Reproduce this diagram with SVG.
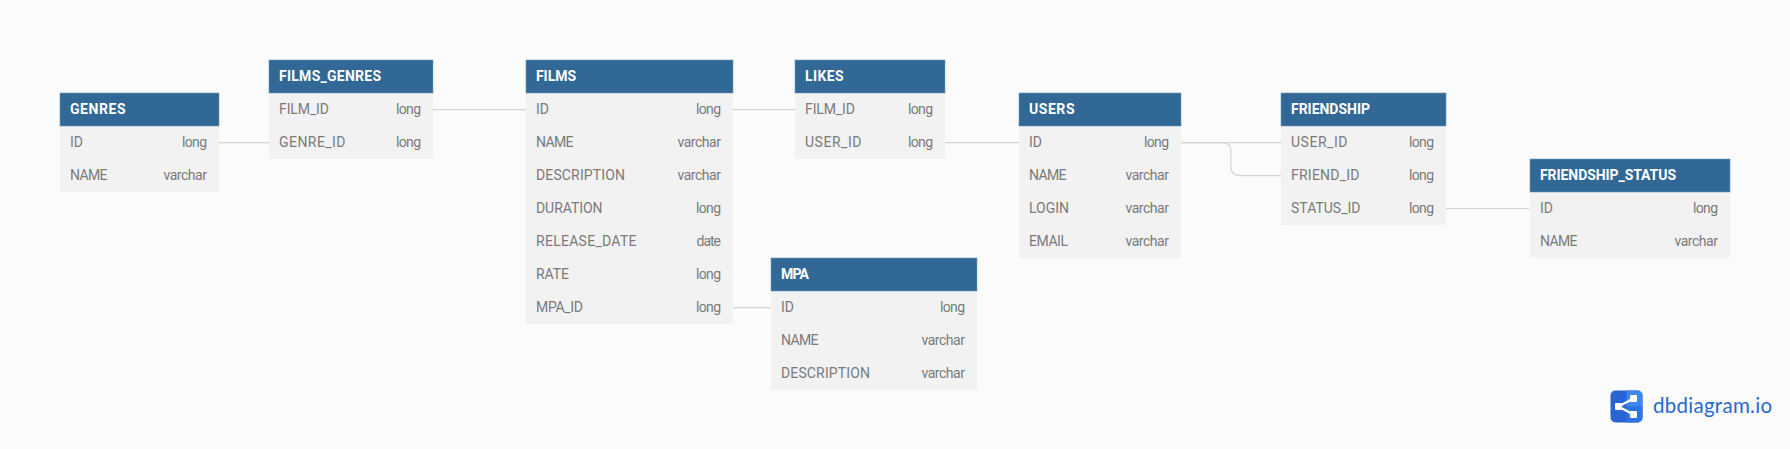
<svg xmlns="http://www.w3.org/2000/svg" width="1790" height="449" viewBox="0 0 1790 449">
<style>
.bg{fill:#fbfbfb}
.body{fill:#f2f2f2}
.head{fill:#316896;stroke:#6f9cc0;stroke-width:.6}
.title{font:700 14px Roboto,"Liberation Sans",sans-serif;fill:#fff}
.f{font:400 14px Roboto,"Liberation Sans",sans-serif;fill:#7a7a7a}
.t{font:400 14px Roboto,"Liberation Sans",sans-serif;fill:#7a7a7a;text-anchor:end}
.c{fill:none;stroke:#d4d4d4;stroke-width:1.25}
.logo{font:400 20.5px Lato,"Open Sans",sans-serif;fill:#2a68cf}
</style>
<rect class="bg" width="1790" height="449"/>
<g id="connectors">
<path class="c" d="M219 142.5H269"/>
<path class="c" d="M433 109.5H526"/>
<path class="c" d="M733 109.5H795"/>
<path class="c" d="M945 142.5H1019"/>
<path class="c" d="M1181 142.5H1281"/>
<path class="c" d="M1181 142.5H1222Q1231 142.5 1231 151.5V166.5Q1231 175.5 1240 175.5H1281"/>
<path class="c" d="M1446 208.5H1529"/>
<path class="c" d="M733 307.5H771"/>
</g>
<g id="GENRES">
<rect class="body" x="60" y="126" width="159" height="66"/><rect class="head" x="60" y="93" width="159" height="33"/>
<text class="title" x="70" y="113.5" textLength="55.5">GENRES</text>
<text class="f" x="70" y="146.5" textLength="13">ID</text><text class="t" x="207" y="146.5" textLength="25">long</text>
<text class="f" x="70" y="179.5" textLength="37.5">NAME</text><text class="t" x="207" y="179.5" textLength="43.5">varchar</text>
</g>
<g id="FILMS_GENRES">
<rect class="body" x="269" y="93" width="164" height="66"/><rect class="head" x="269" y="60" width="164" height="33"/>
<text class="title" x="279" y="80.5" textLength="102">FILMS_GENRES</text>
<text class="f" x="279" y="113.5" textLength="50">FILM_ID</text><text class="t" x="421" y="113.5" textLength="25">long</text>
<text class="f" x="279" y="146.5" textLength="66.5">GENRE_ID</text><text class="t" x="421" y="146.5" textLength="25">long</text>
</g>
<g id="FILMS">
<rect class="body" x="526" y="93" width="207" height="231"/><rect class="head" x="526" y="60" width="207" height="33"/>
<text class="title" x="536" y="80.5" textLength="40">FILMS</text>
<text class="f" x="536" y="113.5" textLength="13">ID</text><text class="t" x="721" y="113.5" textLength="25">long</text>
<text class="f" x="536" y="146.5" textLength="37.5">NAME</text><text class="t" x="721" y="146.5" textLength="43.5">varchar</text>
<text class="f" x="536" y="179.5" textLength="89">DESCRIPTION</text><text class="t" x="721" y="179.5" textLength="43.5">varchar</text>
<text class="f" x="536" y="212.5" textLength="66.5">DURATION</text><text class="t" x="721" y="212.5" textLength="25">long</text>
<text class="f" x="536" y="245.5" textLength="100.5">RELEASE_DATE</text><text class="t" x="721" y="245.5" textLength="24.5">date</text>
<text class="f" x="536" y="278.5" textLength="33">RATE</text><text class="t" x="721" y="278.5" textLength="25">long</text>
<text class="f" x="536" y="311.5" textLength="47">MPA_ID</text><text class="t" x="721" y="311.5" textLength="25">long</text>
</g>
<g id="LIKES">
<rect class="body" x="795" y="93" width="150" height="66"/><rect class="head" x="795" y="60" width="150" height="33"/>
<text class="title" x="805" y="80.5" textLength="38.5">LIKES</text>
<text class="f" x="805" y="113.5" textLength="50">FILM_ID</text><text class="t" x="933" y="113.5" textLength="25">long</text>
<text class="f" x="805" y="146.5" textLength="56.5">USER_ID</text><text class="t" x="933" y="146.5" textLength="25">long</text>
</g>
<g id="USERS">
<rect class="body" x="1019" y="126" width="162" height="132"/><rect class="head" x="1019" y="93" width="162" height="33"/>
<text class="title" x="1029" y="113.5" textLength="45.5">USERS</text>
<text class="f" x="1029" y="146.5" textLength="13">ID</text><text class="t" x="1169" y="146.5" textLength="25">long</text>
<text class="f" x="1029" y="179.5" textLength="37.5">NAME</text><text class="t" x="1169" y="179.5" textLength="43.5">varchar</text>
<text class="f" x="1029" y="212.5" textLength="40">LOGIN</text><text class="t" x="1169" y="212.5" textLength="43.5">varchar</text>
<text class="f" x="1029" y="245.5" textLength="39">EMAIL</text><text class="t" x="1169" y="245.5" textLength="43.5">varchar</text>
</g>
<g id="FRIENDSHIP">
<rect class="body" x="1281" y="126" width="165" height="99"/><rect class="head" x="1281" y="93" width="165" height="33"/>
<text class="title" x="1291" y="113.5" textLength="79">FRIENDSHIP</text>
<text class="f" x="1291" y="146.5" textLength="56.5">USER_ID</text><text class="t" x="1434" y="146.5" textLength="25">long</text>
<text class="f" x="1291" y="179.5" textLength="68.5">FRIEND_ID</text><text class="t" x="1434" y="179.5" textLength="25">long</text>
<text class="f" x="1291" y="212.5" textLength="69.5">STATUS_ID</text><text class="t" x="1434" y="212.5" textLength="25">long</text>
</g>
<g id="FRIENDSHIP_STATUS">
<rect class="body" x="1530" y="192" width="200" height="66"/><rect class="head" x="1530" y="159" width="200" height="33"/>
<text class="title" x="1540" y="179.5" textLength="136">FRIENDSHIP_STATUS</text>
<text class="f" x="1540" y="212.5" textLength="13">ID</text><text class="t" x="1718" y="212.5" textLength="25">long</text>
<text class="f" x="1540" y="245.5" textLength="37.5">NAME</text><text class="t" x="1718" y="245.5" textLength="43.5">varchar</text>
</g>
<g id="MPA">
<rect class="body" x="771" y="291" width="206" height="99"/><rect class="head" x="771" y="258" width="206" height="33"/>
<text class="title" x="781" y="278.5" textLength="28">MPA</text>
<text class="f" x="781" y="311.5" textLength="13">ID</text><text class="t" x="965" y="311.5" textLength="25">long</text>
<text class="f" x="781" y="344.5" textLength="37.5">NAME</text><text class="t" x="965" y="344.5" textLength="43.5">varchar</text>
<text class="f" x="781" y="377.5" textLength="89">DESCRIPTION</text><text class="t" x="965" y="377.5" textLength="43.5">varchar</text>
</g>
<g id="logo">
<rect x="1610.5" y="390.5" width="32" height="32" rx="5" fill="#2a64d2"/>
<path d="M1626.5 390.5H1637.5A5 5 0 0 1 1642.5 395.5V406.5H1626.5Z" fill="#3f86f0"/>
<path d="M1626.5 406.5H1642.5V417.5A5 5 0 0 1 1637.5 422.5H1626.5Z" fill="#2f74e4"/>
<path d="M1633.5 398.5L1618.5 406.5L1633.5 414.5" fill="none" stroke="#fff" stroke-width="2.4"/>
<rect x="1630" y="395" width="7" height="7" rx="1" fill="#fff"/><rect x="1630" y="411" width="7" height="7" rx="1" fill="#fff"/><rect x="1615" y="403" width="7" height="7" rx="1" fill="#fff"/>
<text class="logo" x="1653" y="413" textLength="119">dbdiagram.io</text>
</g>
</svg>
